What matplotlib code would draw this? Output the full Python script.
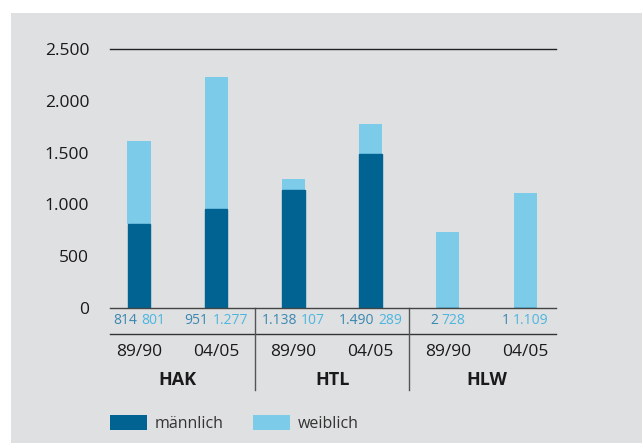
import matplotlib
matplotlib.use("Agg")
import matplotlib.pyplot as plt
from matplotlib.patches import Rectangle
import matplotlib.transforms as mtransforms

# Data
groups = ["HAK", "HTL", "HLW"]
years = ["89/90", "04/05"]
maennlich = [814, 951, 1138, 1490, 2, 1]
weiblich = [801, 1277, 107, 289, 728, 1109]
m_labels = ["814", "951", "1.138", "1.490", "2", "1"]
w_labels = ["801", "1.277", "107", "289", "728", "1.109"]
yticks = [0, 500, 1000, 1500, 2000, 2500]
ytick_labels = ["0", "500", "1.000", "1.500", "2.000", "2.500"]

plt.rcParams['font.family'] = ['Open Sans', 'DejaVu Sans']

C_DARK = "#006391"
C_LIGHT = "#7ccbe9"
C_NUM_M = "#3a87b0"
C_NUM_W = "#4cb6de"
BG = "#dfe0e2"
TXT = "#1a1a1a"

W, H = 642, 443
fig = plt.figure(figsize=(W / 100, H / 100), dpi=100)
fig.patch.set_facecolor("white")
fig.patches.append(Rectangle((11 / W, 0), 1, 1 - 13 / H, transform=fig.transFigure,
                             facecolor=BG, edgecolor="none", zorder=-10))

ax = fig.add_axes([110 / W, 135 / H, (556 - 110) / W, (308 - 49) / H])
ax.set_facecolor("none")

x = list(range(len(maennlich)))
bw = 0.30
ax.bar(x, weiblich, width=bw, bottom=maennlich, color=C_LIGHT, zorder=3)
ax.bar(x, maennlich, width=bw - 0.01, color=C_DARK, edgecolor=C_DARK, linewidth=1.0, zorder=4)

ax.set_xlim(-0.376, 5.40)
ax.set_ylim(0, 2500)
ax.set_yticks(yticks)
ax.set_yticklabels(ytick_labels, fontsize=12.5, color=TXT)
ax.tick_params(axis="y", length=0, pad=15)
ax.set_xticks([])
for s in ["left", "right"]:
    ax.spines[s].set_visible(False)
ax.spines["top"].set_color("#222222")
ax.spines["bottom"].set_color("#444444")
ax.spines["top"].set_linewidth(1.0)
ax.spines["bottom"].set_linewidth(1.0)
ax.spines["bottom"].set_zorder(5)

trans = mtransforms.blended_transform_factory(ax.transData, ax.transAxes)
per = 1 / 259.0
y_num = -13 * per
y_line = -26 * per
y_year = -44 * per
y_grp = -72 * per
y_div = -82 * per

# horizontal table line
ax.plot([0, 1], [y_line, y_line], transform=ax.transAxes, color="#333333", lw=1.0, clip_on=False)
# dividers
for xd in [1.5, 3.5]:
    ax.plot([xd, xd], [0, y_div], transform=trans, color="#555555", lw=1.0, clip_on=False)

# year and group labels
for i in x:
    ax.text(i, y_year, years[i % 2], transform=trans, ha="center", va="center",
            fontsize=12.5, color=TXT)
for g, name in enumerate(groups):
    ax.text(2 * g + 0.5, y_grp, name, transform=trans, ha="center", va="center",
            fontsize=13, fontweight="bold", color=TXT)

# value numbers (two colours)
fig.canvas.draw()
renderer = fig.canvas.get_renderer()
inv = ax.transData.inverted()
for i in x:
    full = ax.text(i, y_num, m_labels[i] + " " + w_labels[i], transform=trans,
                   ha="center", va="center", fontsize=10)
    bb = full.get_window_extent(renderer)
    full.remove()
    xl = inv.transform((bb.x0, 0))[0]
    xr = inv.transform((bb.x1, 0))[0]
    ax.text(xl, y_num, m_labels[i], transform=trans, ha="left", va="center",
            fontsize=10, color=C_NUM_M)
    ax.text(xr, y_num, w_labels[i], transform=trans, ha="right", va="center",
            fontsize=10, color=C_NUM_W)

# legend
def legend_item(x0, color, label):
    fig.patches.append(Rectangle((x0 / W, 1 - 430 / H), 37 / W, 15 / H,
                                 transform=fig.transFigure, facecolor=color,
                                 edgecolor="none"))
    fig.text((x0 + 45) / W, 1 - 424 / H, label, ha="left", va="center",
             fontsize=11.5, color="#333333")

legend_item(110, C_DARK, "männlich")
legend_item(253, C_LIGHT, "weiblich")

fig.savefig("out.png", dpi=100, facecolor=fig.get_facecolor())
